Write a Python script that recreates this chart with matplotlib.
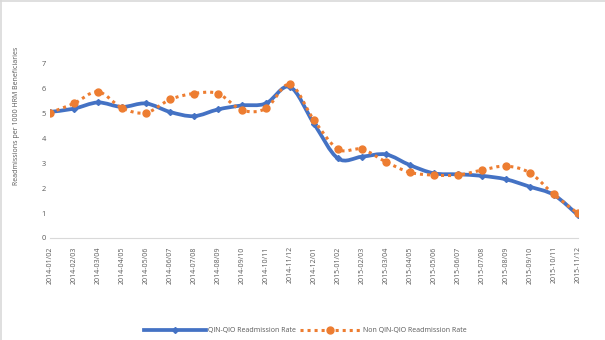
import matplotlib.pyplot as plt
import numpy as np
from matplotlib.lines import Line2D
from matplotlib.patches import PathPatch
from matplotlib.path import Path

plt.rcParams["font.family"] = ["Open Sans", "DejaVu Sans"]

periods = [
    "2014-01/02", "2014-02/03", "2014-03/04", "2014-04/05", "2014-05/06",
    "2014-06/07", "2014-07/08", "2014-08/09", "2014-09/10", "2014-10/11",
    "2014-11/12", "2014-12/01", "2015-01/02", "2015-02/03", "2015-03/04",
    "2015-04/05", "2015-05/06", "2015-06/07", "2015-07/08", "2015-08/09",
    "2015-09/10", "2015-10/11", "2015-11/12",
]
qin_qio = [
    5.07, 5.20, 5.45, 5.27, 5.41, 5.07, 4.90, 5.17, 5.33, 5.41, 6.08, 4.60,
    3.20, 3.27, 3.36, 2.93, 2.60, 2.56, 2.50, 2.36, 2.06, 1.73, 0.92,
]
non_qin_qio = [
    5.04, 5.41, 5.88, 5.23, 5.03, 5.57, 5.81, 5.81, 5.14, 5.21, 6.18, 4.74,
    3.57, 3.57, 3.06, 2.64, 2.53, 2.53, 2.73, 2.89, 2.62, 1.75, 0.99,
]

BLUE = "#4472C4"
ORANGE = "#ED7D31"
GREY = "#595959"


def smooth_path(x, y):
    """Bezier path through the points, Catmull-Rom style like Excel's smoothed lines."""
    pts = np.column_stack([x, y]).astype(float)
    verts = [pts[0]]
    codes = [Path.MOVETO]
    n = len(pts)
    for i in range(n - 1):
        p0 = pts[max(i - 1, 0)]
        p1 = pts[i]
        p2 = pts[i + 1]
        p3 = pts[min(i + 2, n - 1)]
        c1 = p1 + (p2 - p0) / 6
        c2 = p2 - (p3 - p1) / 6
        verts += [c1, c2, p2]
        codes += [Path.CURVE4] * 3
    return Path(verts, codes)


fig = plt.figure(figsize=(6.05, 3.40), dpi=100)
ax = fig.add_axes([0.0826, 0.30, 0.8727, 0.512])

x = np.arange(len(periods))

ax.add_patch(PathPatch(smooth_path(x, qin_qio), fill=False, edgecolor=BLUE,
                       lw=2.7, capstyle="round", joinstyle="round", zorder=3))
ax.plot(x, qin_qio, ls="none", marker="D", ms=3, color=BLUE, zorder=4)

ax.add_patch(PathPatch(smooth_path(x, non_qin_qio), fill=False, edgecolor=ORANGE,
                       lw=2.2, ls=(0, (1.0, 1.3)), zorder=5))
ax.plot(x, non_qin_qio, ls="none", marker="o", ms=5, color=ORANGE, zorder=6)

ax.set_xlim(0, len(periods) - 1)
ax.set_ylim(0, 7)
ax.set_yticks(range(8))
ax.set_xticks(x)
ax.set_xticklabels(periods, rotation=90, fontsize=5, color=GREY)
ax.tick_params(axis="y", labelsize=5.4, labelcolor=GREY, length=0, pad=3)
ax.tick_params(axis="x", length=0, pad=6)

for side in ["top", "right", "left"]:
    ax.spines[side].set_visible(False)
ax.spines["bottom"].set_color("#D9D9D9")
ax.spines["bottom"].set_linewidth(0.8)

fig.text(0.027, 0.66, "Readmissions per 1000 HRM Beneficiaries", rotation=90,
         fontsize=5.0, color=GREY, ha="center", va="center")

handles = [
    Line2D([], [], color=BLUE, lw=2.7, marker="D", ms=3),
    Line2D([], [], color=ORANGE, lw=2.2, ls=(0, (1.0, 1.3)), marker="o", ms=5),
]
fig.legend(handles, ["QIN-QIO Readmission Rate", "Non QIN-QIO Readmission Rate"],
           loc="center", bbox_to_anchor=(0.505, 0.027), ncol=2, frameon=False,
           fontsize=5.0, labelcolor=GREY, handlelength=8.8, handletextpad=0.3,
           columnspacing=0.6)

# thin frame on the left and top edges of the chart area
fig.add_artist(Line2D([0.001, 0.001], [0, 1], color="#D9D9D9", lw=1.2,
                      transform=fig.transFigure))
fig.add_artist(Line2D([0, 1], [0.998, 0.998], color="#D9D9D9", lw=1.2,
                      transform=fig.transFigure))

fig.savefig("out.png", dpi=100)
